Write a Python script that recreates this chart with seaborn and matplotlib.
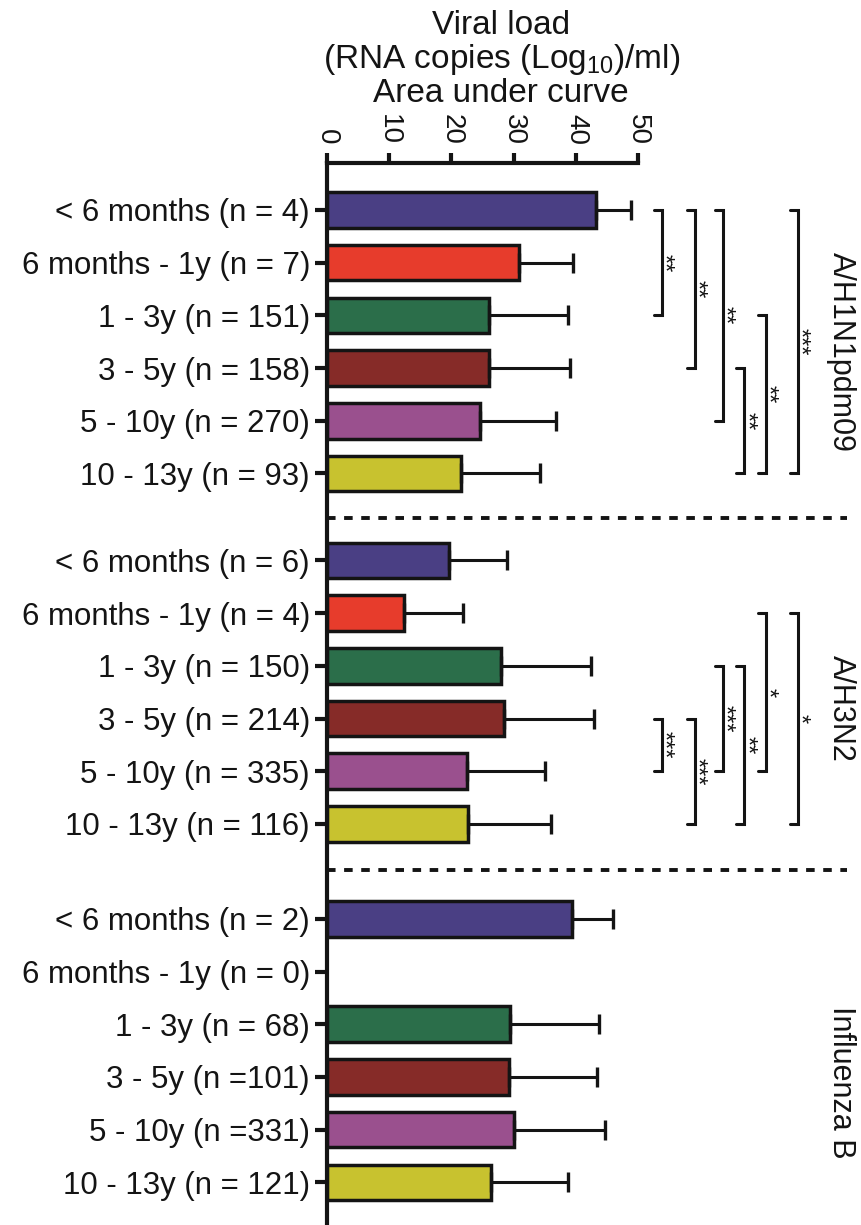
import numpy as np
import pandas as pd
import matplotlib.pyplot as plt
import matplotlib.transforms as mtransforms
import seaborn as sns

# age groups (same for each virus)
age_groups = ["< 6 months", "6 months - 1y", "1 - 3y", "3 - 5y", "5 - 10y", "10 - 13y"]
viruses = ["A/H1N1pdm09", "A/H3N2", "Influenza B"]

labels_h1n1 = ["< 6 months (n = 4)", "6 months - 1y (n = 7)", "1 - 3y (n = 151)",
               "3 - 5y (n = 158)", "5 - 10y (n = 270)", "10 - 13y (n = 93)"]
labels_h3n2 = ["< 6 months (n = 6)", "6 months - 1y (n = 4)", "1 - 3y (n = 150)",
               "3 - 5y (n = 214)", "5 - 10y (n = 335)", "10 - 13y (n = 116)"]
labels_b = ["< 6 months (n = 2)", "6 months - 1y (n = 0)", "1 - 3y (n = 68)",
            "3 - 5y (n =101)", "5 - 10y (n =331)", "10 - 13y (n = 121)"]

# mean AUC and upper error (SD)
auc_h1n1 = [43.2, 30.9, 26.1, 26.0, 24.6, 21.6]
err_h1n1 = [5.7, 8.6, 12.7, 13.1, 12.2, 12.7]
auc_h3n2 = [19.7, 12.4, 27.9, 28.5, 22.5, 22.6]
err_h3n2 = [9.3, 9.4, 14.5, 14.4, 12.5, 13.4]
auc_b = [39.4, np.nan, 29.4, 29.3, 30.0, 26.3]
err_b = [6.6, np.nan, 14.3, 14.1, 14.6, 12.4]

palette = ["#4a3f84", "#e73c2c", "#2b6e4a", "#862b28", "#9a508e", "#c8c22f"]

# significance brackets: (first row, last row, stars, column)
sig_h1n1 = [(0, 2, "**", 0), (0, 3, "**", 1), (0, 4, "**", 2),
            (3, 5, "**", 3), (2, 5, "**", 4), (0, 5, "***", 5)]
sig_h3n2 = [(3, 4, "***", 0), (3, 5, "***", 1), (2, 4, "***", 2),
            (2, 5, "**", 3), (1, 4, "*", 4), (1, 5, "*", 5)]
bracket_x = [53.8, 59.1, 63.6, 67.0, 70.5, 75.6]

group_start = [0, 6.65, 13.45]
label_offset = [2.7, 2.8, 3.1]
INK = "#141414"


def build_df():
    rows = []
    all_auc = [auc_h1n1, auc_h3n2, auc_b]
    all_err = [err_h1n1, err_h3n2, err_b]
    all_lab = [labels_h1n1, labels_h3n2, labels_b]
    for g, virus in enumerate(viruses):
        for i, age in enumerate(age_groups):
            rows.append({"virus": virus, "age": age, "label": all_lab[g][i],
                         "pos": group_start[g] + i, "auc": all_auc[g][i],
                         "err": all_err[g][i]})
    return pd.DataFrame(rows)


def draw_brackets(ax, sig, g):
    for r0, r1, stars, col in sig:
        x = bracket_x[col]
        y0 = group_start[g] + r0
        y1 = group_start[g] + r1
        ax.plot([x - 1.3, x, x, x - 1.3], [y0, y0, y1, y1], color=INK,
                lw=2.2, clip_on=False, solid_joinstyle="miter")
        # stars sit just right of the bracket line
        ax.text(x + 0.25, (y0 + y1) / 2, stars, rotation=-90, ha="center", va="center",
                fontsize=17, color=INK)


def main():
    df = build_df()
    sns.set_style("ticks")
    plt.rcParams["font.family"] = ["Liberation Sans", "DejaVu Sans"]
    plt.rcParams["mathtext.fontset"] = "custom"
    plt.rcParams["mathtext.rm"] = "Liberation Sans"
    plt.rcParams["mathtext.default"] = "regular"
    plt.rcParams["text.color"] = INK
    plt.rcParams["xtick.color"] = INK
    plt.rcParams["ytick.color"] = INK

    fig = plt.figure(figsize=(8.62, 12.25), dpi=100)
    ax = fig.add_axes([326.7 / 862, 0.0, 1 - 326.7 / 862, 1 - 163 / 1225])

    df_bars = df.dropna(subset=["auc"])
    sns.barplot(data=df_bars, x="auc", y="pos", hue="age", hue_order=age_groups,
                palette=palette, saturation=1, orient="h", native_scale=True,
                dodge=False, width=0.675, edgecolor=INK, linewidth=2.5,
                legend=False, errorbar=None, ax=ax)
    ax.errorbar(df_bars["auc"], df_bars["pos"],
                xerr=[np.zeros(len(df_bars)), df_bars["err"]], fmt="none",
                ecolor=INK, elinewidth=2.2, capsize=7, capthick=2.4, zorder=1)

    ax.set_xlim(0, 85.9)
    ax.set_ylim((1225 - 210) / 52.7, -47 / 52.7)

    ax.set_yticks(df["pos"])
    ax.set_yticklabels(df["label"], fontsize=22.5)
    ax.xaxis.tick_top()
    ax.set_xticks([0, 10, 20, 30, 40, 50])
    ax.set_xticklabels(["0", "10", "20", "30", "40", "50"], rotation=-90, fontsize=20)
    ax.tick_params(axis="y", length=9, width=3, color=INK, pad=3)
    ax.tick_params(axis="x", length=7, width=3, color=INK, pad=6)
    ax.set_xlabel("")
    ax.set_ylabel("")

    for side in ["right", "bottom"]:
        ax.spines[side].set_visible(False)
    ax.spines["top"].set_bounds(0, 50)
    for side in ["top", "left"]:
        ax.spines[side].set_linewidth(3)
        ax.spines[side].set_color(INK)

    # dashed group separators
    for y in [5.85, 12.52]:
        ax.plot([0, 83.5], [y, y], color=INK, lw=2.8, ls=(0, (2.2, 2.2)),
                clip_on=False)

    draw_brackets(ax, sig_h1n1, 0)
    draw_brackets(ax, sig_h3n2, 1)

    # group names
    for g, virus in enumerate(viruses):
        ax.text(82.6, group_start[g] + label_offset[g], virus, rotation=-90,
                ha="center", va="center", fontsize=22, clip_on=False)

    # axis title
    trans = mtransforms.blended_transform_factory(ax.transData, fig.transFigure)
    title_lines = ["Viral load", "(RNA copies (Log$_{10}$)/ml)", "Area under curve"]
    for k, line in enumerate(title_lines):
        ax.text(28, 1 - (25 + 34.5 * k) / 1225, line, transform=trans, ha="center",
                va="center", fontsize=24)

    plt.savefig("out.png", dpi=100)


if __name__ == "__main__":
    main()
